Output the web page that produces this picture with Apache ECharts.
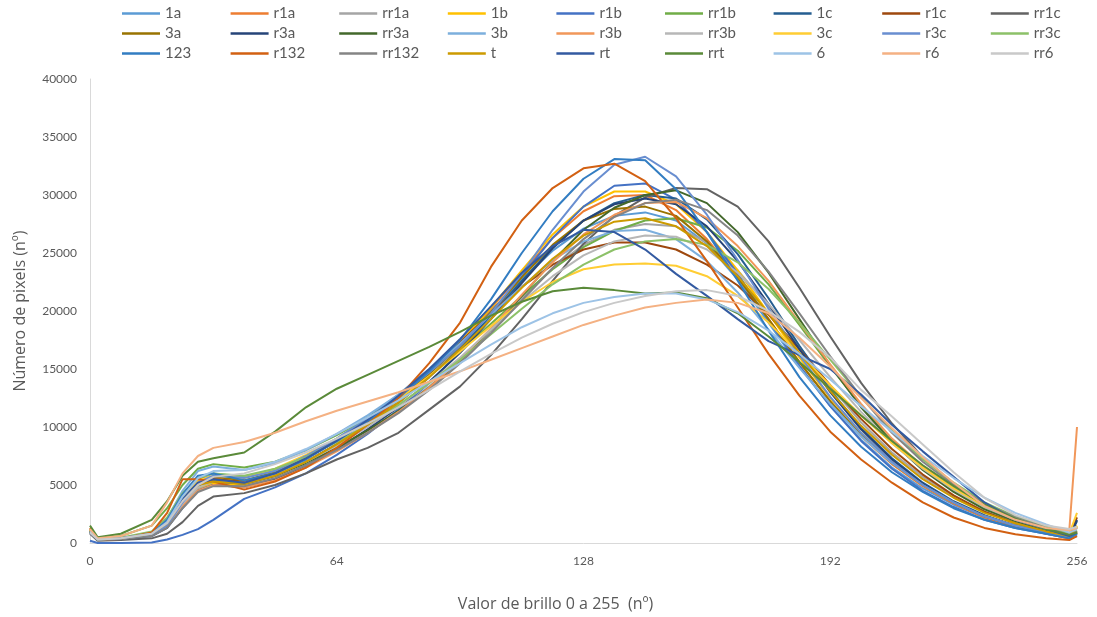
<!DOCTYPE html>
<html>
<head>
<meta charset="utf-8">
<title>Histograma de brillo</title>
<script src="https://cdn.jsdelivr.net/npm/echarts@6/dist/echarts.min.js"></script>
<style>
  html, body { margin: 0; padding: 0; background: #ffffff; }
  #chart { width: 1097px; height: 617px; }
</style>
</head>
<body>
<div id="chart"></div>
<script>
// Brightness levels (0..256) at which each histogram is sampled
const levels = [0, 2, 8, 16, 20, 24, 28, 32, 40, 48, 56, 64, 72, 80, 88, 96, 104, 112, 120, 128, 136, 144, 152, 160, 168, 176, 184, 192, 200, 208, 216, 224, 232, 240, 248, 254, 256];

// Pixel counts per sample, one array per image
const h_1a    = [1100, 300, 400, 800, 1800, 3900, 5500, 6000, 5700, 6300, 7500, 9000, 10800, 12800, 15000, 17400, 20000, 22700, 25200, 27100, 28200, 28500, 27800, 25800, 22700, 19000, 15200, 11800, 8900, 6500, 4700, 3300, 2200, 1400, 900, 500, 800];
const h_r1a   = [1200, 300, 400, 800, 1800, 4000, 5400, 5600, 5200, 5800, 7000, 8500, 10300, 12300, 14600, 17200, 20200, 23300, 26300, 28600, 29900, 30000, 28700, 26200, 23000, 19300, 15600, 12200, 9200, 6800, 4900, 3400, 2200, 1400, 800, 400, 900];
const h_rr1a  = [900, 300, 350, 700, 1500, 3300, 4700, 5100, 4900, 5500, 6600, 8000, 9600, 11400, 13500, 15800, 18400, 21100, 23700, 25700, 27000, 27500, 27300, 25900, 23500, 20400, 16900, 13500, 10400, 7800, 5700, 4000, 2700, 1800, 1100, 600, 900];
const h_1b    = [1000, 300, 400, 700, 1600, 3500, 4800, 5200, 5000, 5800, 7000, 8500, 10200, 12200, 14600, 17300, 20300, 23500, 26600, 29000, 30300, 30300, 29200, 26800, 23500, 19800, 16000, 12500, 9500, 7000, 5000, 3500, 2300, 1500, 900, 500, 1500];
const h_r1b   = [200, 0, 0, 50, 300, 700, 1200, 2000, 3800, 4800, 6000, 7600, 9400, 11500, 13800, 16500, 19700, 23000, 26300, 29000, 30800, 31000, 29600, 26800, 23200, 19200, 15300, 11800, 8800, 6400, 4500, 3100, 2000, 1300, 800, 400, 600];
const h_rr1b  = [1200, 400, 600, 1500, 3000, 5000, 6400, 6800, 6500, 7000, 8000, 9300, 10800, 12500, 14400, 16500, 18900, 21300, 23600, 25500, 26900, 27800, 28000, 27200, 25200, 22300, 18800, 15200, 11800, 8800, 6400, 4500, 3000, 2000, 1200, 700, 1000];
const h_1c    = [900, 300, 350, 700, 1600, 3500, 4900, 5300, 5100, 5800, 7000, 8500, 10200, 12100, 14300, 16800, 19600, 22600, 25500, 27800, 29300, 30000, 29700, 27900, 24900, 21100, 17000, 13200, 9900, 7300, 5200, 3600, 2400, 1500, 900, 500, 1900];
const h_r1c   = [1000, 300, 400, 800, 1800, 3800, 5200, 5500, 5300, 6000, 7300, 8800, 10500, 12500, 14800, 17300, 19800, 22100, 24000, 25300, 25900, 25900, 25300, 24000, 22200, 19700, 16700, 13600, 10700, 8100, 5900, 4100, 2700, 1700, 1000, 600, 2200];
const h_rr1c  = [800, 200, 250, 400, 800, 1800, 3200, 4000, 4300, 5000, 6000, 7200, 8200, 9500, 11500, 13500, 16200, 19300, 22600, 25800, 28200, 29800, 30600, 30500, 29000, 26000, 22000, 17800, 13800, 10300, 7400, 5100, 3400, 2200, 1400, 800, 1300];
const h_3a    = [1100, 300, 400, 900, 2000, 4200, 5500, 5700, 5400, 6100, 7300, 8800, 10500, 12400, 14600, 17000, 19900, 22900, 25700, 27800, 28800, 29000, 28200, 26000, 22900, 19300, 15600, 12200, 9300, 6900, 5000, 3500, 2300, 1500, 900, 500, 1000];
const h_r3a   = [900, 300, 350, 600, 1300, 3000, 4500, 5000, 4800, 5500, 6700, 8100, 9800, 11700, 13900, 16400, 19300, 22400, 25400, 27800, 29200, 29700, 29200, 27300, 24300, 20600, 16700, 13000, 9800, 7200, 5100, 3500, 2300, 1500, 900, 500, 2000];
const h_rr3a  = [1000, 300, 400, 800, 1700, 3600, 5000, 5400, 5200, 5800, 6900, 8200, 9700, 11400, 13400, 15700, 18400, 21300, 24300, 27000, 28900, 30000, 30400, 29300, 26800, 23300, 19300, 15300, 11700, 8700, 6300, 4400, 2900, 1900, 1100, 600, 900];
const h_3b    = [1000, 300, 400, 900, 2100, 4500, 6200, 6600, 6300, 6900, 8000, 9400, 11000, 12800, 14900, 17200, 19700, 22100, 24400, 26000, 26900, 27000, 26200, 24300, 21600, 18400, 15100, 12000, 9200, 6900, 5000, 3500, 2300, 1500, 900, 500, 700];
const h_r3b   = [1100, 300, 400, 700, 1500, 3200, 4500, 5000, 4800, 5400, 6500, 7900, 9500, 11300, 13400, 15800, 18500, 21400, 24200, 26600, 28300, 29300, 29400, 28000, 25600, 22600, 19000, 15400, 12000, 9000, 6600, 4700, 3200, 2100, 1300, 1100, 10000];
const h_rr3b  = [900, 300, 350, 700, 1500, 3400, 4800, 5300, 5200, 5900, 7000, 8400, 10000, 11800, 13800, 16000, 18400, 20800, 23000, 24800, 26000, 26500, 26400, 25300, 23300, 20600, 17500, 14300, 11300, 8600, 6400, 4600, 3100, 2000, 1200, 700, 1000];
const h_3c    = [1100, 300, 400, 800, 1800, 4000, 5400, 5800, 5600, 6400, 7600, 9000, 10600, 12400, 14400, 16500, 18700, 20800, 22500, 23600, 24000, 24100, 23900, 23000, 21300, 19000, 16300, 13600, 11000, 8600, 6500, 4700, 3200, 2100, 1300, 800, 2600];
const h_r3c   = [900, 300, 400, 700, 1500, 3500, 5200, 5800, 5600, 6200, 7500, 9000, 10700, 12600, 14700, 17000, 19800, 23200, 27000, 30300, 32600, 33300, 31600, 28300, 24400, 20200, 16200, 12600, 9500, 7000, 5000, 3500, 2300, 1500, 900, 500, 700];
const h_rr3c  = [1000, 300, 450, 1000, 2200, 4300, 5600, 6000, 5800, 6400, 7400, 8700, 10200, 11900, 13800, 15800, 18000, 20200, 22300, 24000, 25300, 26000, 26200, 25700, 24200, 21900, 19000, 15800, 12600, 9700, 7200, 5200, 3500, 2300, 1400, 800, 1100];
const h_123   = [1000, 300, 400, 800, 2000, 4200, 5800, 6000, 5400, 6000, 7200, 8800, 10500, 12500, 14800, 17500, 21000, 25000, 28600, 31400, 33100, 33000, 30500, 26800, 22600, 18300, 14300, 11000, 8300, 6100, 4400, 3000, 2000, 1300, 800, 400, 800];
const h_r132  = [1300, 300, 350, 900, 2600, 5500, 5500, 5300, 4600, 5300, 6500, 8200, 10200, 12500, 15500, 19000, 23800, 27800, 30600, 32300, 32700, 31200, 28000, 24300, 20300, 16300, 12700, 9600, 7200, 5200, 3500, 2200, 1300, 750, 400, 250, 600];
const h_rr132 = [900, 300, 350, 600, 1300, 3000, 4400, 4900, 4900, 5600, 6700, 8000, 9500, 11200, 13200, 15500, 18100, 20900, 23700, 26200, 28100, 29300, 29600, 28700, 26500, 23400, 19800, 16100, 12600, 9500, 7000, 5000, 3400, 2200, 1300, 700, 1000];
const h_t     = [1000, 300, 400, 800, 1700, 3700, 5000, 5300, 5100, 5800, 7000, 8500, 10200, 12100, 14300, 16700, 19300, 22000, 24500, 26500, 27700, 28000, 27300, 25600, 23000, 19800, 16400, 13100, 10100, 7600, 5500, 3900, 2600, 1700, 1000, 600, 1400];
const h_rt    = [1000, 300, 400, 800, 1800, 3800, 5200, 5500, 5200, 6000, 7300, 8800, 10600, 12700, 15000, 17600, 20400, 23300, 25600, 27000, 26800, 25300, 23200, 21300, 19300, 17400, 16200, 15000, 12800, 10200, 7900, 5700, 3500, 2000, 1200, 600, 900];
const h_rrt   = [1500, 500, 800, 2000, 3600, 5800, 7000, 7300, 7800, 9600, 11700, 13300, 14500, 15700, 16900, 18200, 19600, 20800, 21700, 22000, 21800, 21500, 21600, 21100, 19800, 17800, 15600, 13300, 11000, 8800, 6700, 4900, 3300, 2100, 1200, 700, 900];
const h_6     = [1000, 300, 400, 800, 1800, 4000, 5600, 6200, 6300, 7000, 8100, 9400, 10800, 12300, 13900, 15500, 17100, 18600, 19800, 20700, 21200, 21500, 21500, 21000, 19900, 18300, 16300, 14100, 11800, 9600, 7500, 5600, 3900, 2600, 1600, 900, 1200];
const h_r6    = [1200, 400, 600, 1500, 3500, 6000, 7500, 8200, 8700, 9500, 10500, 11400, 12200, 13000, 13900, 14800, 15800, 16800, 17800, 18800, 19600, 20300, 20700, 21000, 20700, 19800, 17700, 15200, 12500, 9900, 7400, 5200, 3200, 2000, 1300, 1100, 1300];
const h_rr6   = [900, 300, 400, 800, 1700, 3600, 5000, 5700, 6000, 6800, 7800, 9000, 10300, 11700, 13200, 14800, 16300, 17700, 18900, 19900, 20700, 21300, 21700, 21800, 21300, 20000, 18200, 16000, 13200, 10900, 8500, 6100, 3900, 2400, 1500, 1200, 1400];

// Series names in legend order, with the matching arrays
const seriesNames = ['1a', 'r1a', 'rr1a', '1b', 'r1b', 'rr1b', '1c', 'r1c', 'rr1c',
                     '3a', 'r3a', 'rr3a', '3b', 'r3b', 'rr3b', '3c', 'r3c', 'rr3c',
                     '123', 'r132', 'rr132', 't', 'rt', 'rrt', '6', 'r6', 'rr6'];
const seriesValues = [h_1a, h_r1a, h_rr1a, h_1b, h_r1b, h_rr1b, h_1c, h_r1c, h_rr1c,
                      h_3a, h_r3a, h_rr3a, h_3b, h_r3b, h_rr3b, h_3c, h_r3c, h_rr3c,
                      h_123, h_r132, h_rr132, h_t, h_rt, h_rrt, h_6, h_r6, h_rr6];

// Office-style palette, one colour per series
const palette = ['#5B9BD5', '#ED7D31', '#A5A5A5', '#FFC000', '#4472C4', '#70AD47', '#255E91', '#9E480E', '#636363',
                 '#997300', '#264478', '#43682B', '#7CAFDD', '#F1975A', '#B7B7B7', '#FFCD33', '#698ED0', '#8CC168',
                 '#327DC2', '#D26012', '#848484', '#CC9A00', '#335AA1', '#5A8A39', '#9DC3E6', '#F4B183', '#C9C9C9'];

// Axis ticks
const xTicks = { min: 0, max: 256, step: 64 };
const yTicks = { min: 0, max: 40000, step: 5000 };

const FONT = 'Lato, "Open Sans", sans-serif';
const TITLE_FONT = '"Open Sans", Lato, sans-serif';
const chart = echarts.init(document.getElementById('chart'), null, { renderer: 'canvas' });

const series = seriesNames.map((name, k) => ({
  name: name,
  type: 'line',
  data: levels.map((x, i) => [x, seriesValues[k][i]]),
  showSymbol: false,
  symbol: 'none',
  smooth: false,
  lineStyle: { width: 2, color: palette[k] },
  itemStyle: { color: palette[k] },
  emphasis: { disabled: true }
}));

chart.setOption({
  animation: false,
  backgroundColor: '#ffffff',
  color: palette,
  legend: {
    left: 122,
    top: 6,
    padding: 0,
    width: 985,
    orient: 'horizontal',
    icon: 'rect',
    itemWidth: 38,
    itemHeight: 2.5,
    itemGap: 5,
    textStyle: {
      fontFamily: FONT,
      fontSize: 15,
      color: '#595959',
      width: 60.6,
      lineHeight: 14,
      padding: [0, 0, 0, 0]
    },
    data: seriesNames
  },
  grid: { left: 90, right: 20, top: 79, bottom: 71, containLabel: false },
  xAxis: {
    type: 'value',
    min: xTicks.min,
    max: xTicks.max,
    interval: xTicks.step,
    name: 'Valor de brillo 0 a 255  (nº)',
    nameLocation: 'middle',
    nameGap: 53,
    nameTextStyle: { fontFamily: TITLE_FONT, fontSize: 16, color: '#595959', padding: [0, 56, 0, 0] },
    axisLine: { show: true, lineStyle: { color: '#D9D9D9', width: 1 } },
    axisTick: { show: false },
    splitLine: { show: false },
    axisLabel: { fontFamily: FONT, fontSize: 12, color: '#595959', margin: 12 }
  },
  yAxis: {
    type: 'value',
    min: yTicks.min,
    max: yTicks.max,
    interval: yTicks.step,
    name: 'Número de pixels (nº)',
    nameLocation: 'middle',
    nameGap: 62,
    nameRotate: 90,
    nameTextStyle: { fontFamily: TITLE_FONT, fontSize: 16, color: '#595959' },
    axisLine: { show: true, lineStyle: { color: '#D9D9D9', width: 1 } },
    axisTick: { show: false },
    splitLine: { show: false },
    axisLabel: {
      fontFamily: FONT, fontSize: 12, color: '#595959', margin: 13,
      formatter: (v) => String(v)
    }
  },
  series: series
});
</script>
</body>
</html>
